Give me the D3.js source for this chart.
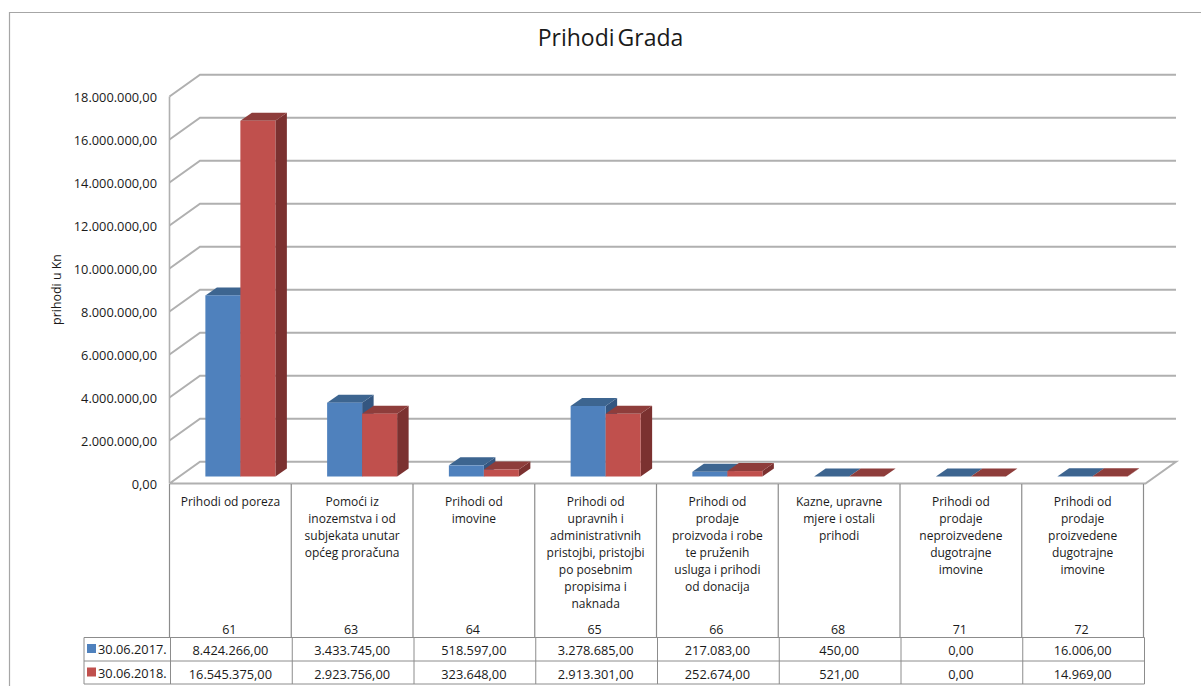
<!DOCTYPE html>
<html><head><meta charset="utf-8">
<script src="https://cdn.jsdelivr.net/npm/d3@7"></script>
<style>html,body{margin:0;padding:0;background:#fff}svg{display:block}text{font-family:"Open Sans",sans-serif;fill:#1a1a1a}</style>
</head><body><svg id="c" width="1201" height="686"></svg>
<script>
const chartTitle = "Prihodi Grada";
const yAxisTitle = "prihodi u Kn";
const codes = ["61","63","64","65","66","68","71","72"];
const categories = [
 ["Prihodi od poreza"],
 ["Pomoći iz","inozemstva i od","subjekata unutar","općeg proračuna"],
 ["Prihodi od","imovine"],
 ["Prihodi od","upravnih i","administrativnih","pristojbi, pristojbi","po posebnim","propisima i","naknada"],
 ["Prihodi od","prodaje","proizvoda i robe","te pruženih","usluga i prihodi","od donacija"],
 ["Kazne, upravne","mjere i ostali","prihodi"],
 ["Prihodi od","prodaje","neproizvedene","dugotrajne","imovine"],
 ["Prihodi od","prodaje","proizvedene","dugotrajne","imovine"]
];
const seriesNames = ["30.06.2017.","30.06.2018."];
const values2017 = [8424266,3433745,518597,3278685,217083,450,0,16006];
const values2018 = [16545375,2923756,323648,2913301,252674,521,0,14969];
const yTicks = [0,2e6,4e6,6e6,8e6,10e6,12e6,14e6,16e6,18e6];
const frontColors = ["#4f81bd","#c0504d"], topColors = ["#3d6590","#8e3d3b"], sideColors = ["#345680","#7b3130"];

const fmt = v => d3.format(",.2f")(v).replace(/[,.]/g, m => m === "," ? "." : ",");
const svg = d3.select("#c");
const grid = "#b0b0b0", cellLine = "#8c8c8c";

const y = d3.scaleLinear().domain([0,18e6]).range([483.5,96.5]);
const x = d3.scaleBand().domain(codes).range([169.5,1143.5]);
const sub = d3.scaleBand().domain([0,1]).range([0,70]);
const depthX = 30.5, depthY = 21.8, barDX = 11.5, barDY = 8, floorLift = 7;

// frame
svg.append("path").attr("d","M1201,12.5H9.5V686").attr("fill","none").attr("stroke","#a6a6a6").attr("stroke-width",1.2);

// walls
const right = x.range()[1]+2;
yTicks.forEach(t=>{
  const yy=y(t);
  svg.append("path").attr("d",`M${x.range()[0]},${yy}l${depthX},${-depthY}H${right+depthX}`+(t===0?`l${-depthX},${depthY}H${x.range()[0]}`:""))
    .attr("fill","none").attr("stroke",grid).attr("stroke-width",2);
});
svg.append("line").attr("x1",x.range()[0]).attr("x2",x.range()[0]).attr("y1",y(18e6)).attr("y2",y(0)).attr("stroke",grid).attr("stroke-width",1.6);

// y labels
yTicks.forEach(t=>{
  svg.append("text").attr("x",157).attr("y",y(t)+5).attr("text-anchor","end").attr("font-size",12.8).text(fmt(t));
});
svg.append("text").attr("transform","translate(61,289.5) rotate(-90)").attr("text-anchor","middle").attr("font-size",12.4).text(yAxisTitle);
svg.append("text").attr("x",610.5).attr("y",46).attr("text-anchor","middle").attr("font-size",23).attr("word-spacing",-3).text(chartTitle);

// bars: draw series per category, back to front
codes.forEach((c,i)=>{
  const x0 = x(c)+x.bandwidth()/2-25;
  [values2017[i],values2018[i]].forEach((v,s)=>{
    const l=x0+sub(s), w=sub.bandwidth(), b=y(0)-floorLift, t=b-(y(0)-y(v));
    const g=svg.append("g");
    g.append("path").attr("d",`M${l+w},${b}V${t}l${barDX},${-barDY}V${b-barDY}Z`).attr("fill",sideColors[s]);
    g.append("path").attr("d",`M${l},${t}l${barDX},${-barDY}H${l+w+barDX}l${-barDX},${barDY}Z`).attr("fill",topColors[s]);
    g.append("rect").attr("x",l).attr("y",t).attr("width",w).attr("height",b-t).attr("fill",frontColors[s]);
  });
});

// category cells
const catTop=484, tableTop=637.5, r1=661, r2=684;
x.domain().forEach((c,i)=>{
  const l=x(c);
  svg.append("line").attr("x1",l).attr("x2",l).attr("y1",catTop).attr("y2",tableTop).attr("stroke",cellLine).attr("stroke-width",1.2);
  categories[i].forEach((ln,k)=>{
    svg.append("text").attr("x",l+x.bandwidth()/2).attr("y",506+k*17).attr("text-anchor","middle").attr("font-size",12).text(ln);
  });
  svg.append("text").attr("x",l+x.bandwidth()/2-1).attr("y",634).attr("text-anchor","middle").attr("font-size",12.5).text(c);
});
svg.append("line").attr("x1",x.range()[1]).attr("x2",x.range()[1]).attr("y1",catTop).attr("y2",tableTop).attr("stroke",cellLine).attr("stroke-width",1.2);

// data table
const tLeft=84, tRight=1144.5, rows=[tableTop,r1,r2];
rows.forEach(yy=>svg.append("line").attr("x1",tLeft).attr("x2",tRight).attr("y1",yy).attr("y2",yy).attr("stroke",cellLine).attr("stroke-width",1));
[tLeft,...x.domain().map(c=>x(c)+1),tRight].forEach(xx=>svg.append("line").attr("x1",xx).attr("x2",xx).attr("y1",tableTop).attr("y2",r2).attr("stroke",cellLine).attr("stroke-width",1));
[values2017,values2018].forEach((vals,s)=>{
  const base=rows[s]+17.5;
  svg.append("rect").attr("x",87).attr("y",rows[s]+6.5).attr("width",9).attr("height",9).attr("fill",frontColors[s]);
  svg.append("text").attr("x",98).attr("y",base-1).attr("font-size",12.8).text(seriesNames[s]);
  vals.forEach((v,i)=>{
    svg.append("text").attr("x",x(codes[i])+x.bandwidth()/2).attr("y",base).attr("text-anchor","middle").attr("font-size",12.8).text(fmt(v));
  });
});
</script></body></html>
